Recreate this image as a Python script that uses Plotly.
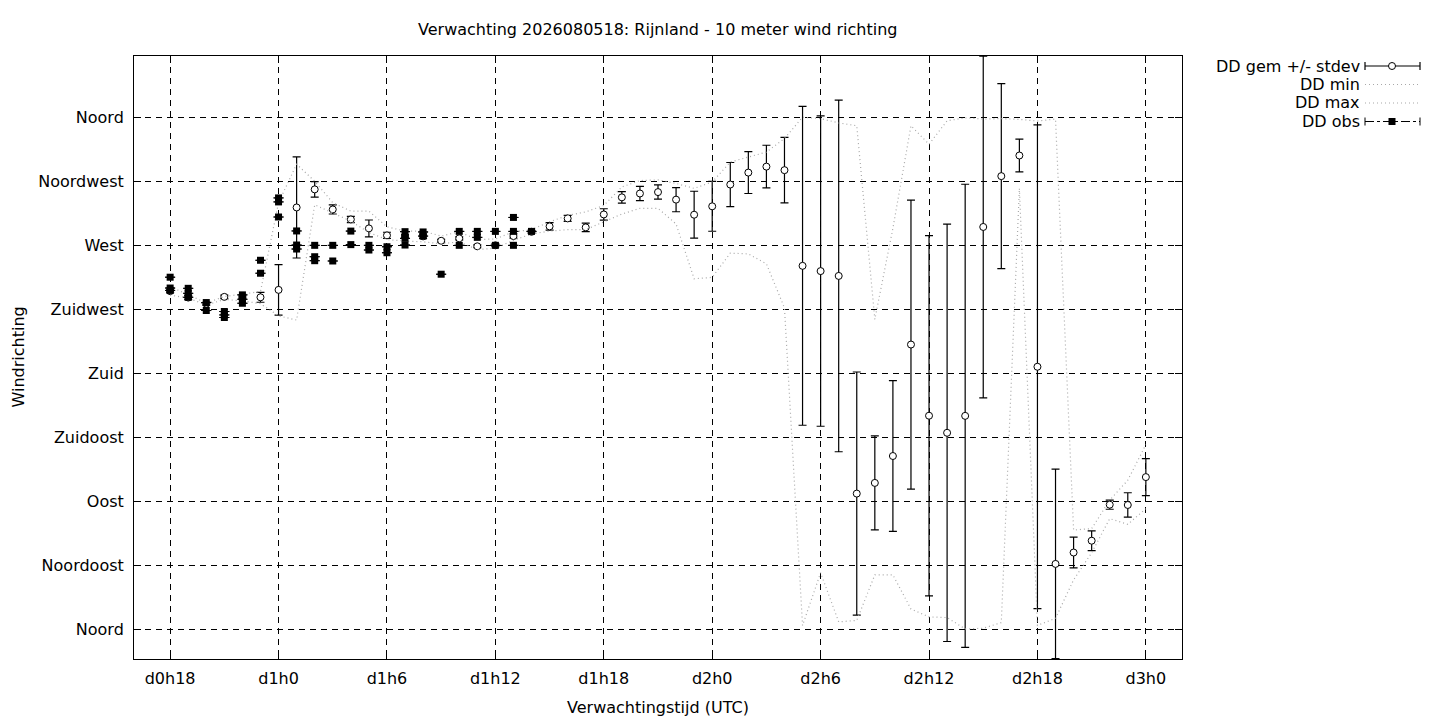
import plotly.graph_objects as go

# --- DATA ---
hours = [18, 19, 20, 21, 22, 23, 24, 25, 26, 27, 28, 29, 30, 31, 32, 33, 34, 35, 36,
         37, 38, 39, 40, 41, 42, 43, 44, 45, 46, 47, 48, 49, 50, 51, 52, 53, 54, 55,
         56, 57, 58, 59, 60, 61, 62, 63, 64, 65, 66, 67, 68, 69, 70, 71, 72]

dd_mean = [237.8, 233.3, 229.0, 233.8, 233.5, 233.5, 238.7, 296.6, 309.3, 295.2, 288.2,
           281.9, 277.0, 276.5, 276.3, 273.2, 274.9, 269.3, 270.0, 276.5, 279.5, 283.3,
           288.9, 282.6, 291.7, 303.7, 306.4, 307.4, 302.1, 291.5, 297.4, 312.7, 321.1,
           325.3, 322.8, 255.6, 251.9, 248.5, 95.6, 103.1, 122.0, 200.3, 150.3, 138.3,
           150.2, 282.9, 318.6, 333.1, 184.7, 46.2, 54.2, 62.5, 87.8, 87.6, 107.2]

dd_stdev = [1, 1.5, 1, 1.2, 1, 3.5, 17.8, 35.5, 5.4, 3.2, 2.2, 5.9, 2.2, 1, 1.5, 1, 1, 1,
            1, 1.5, 1, 2.6, 2.1, 3, 4, 4, 5, 5, 8.5, 16.5, 17.5, 15.5, 14.7, 15, 23, 112,
            109, 123.5, 85.4, 33, 53, 101.5, 126.5, 146.6, 162.7, 120, 65, 11.5, 169.9,
            66.6, 10.8, 6.9, 3.2, 8.6, 13]

dd_min = [235, 233, 228, 232, 231, 229, 220.5, 217.5, 298.5, 293, 287, 279, 274, 273,
          272.5, 271, 272.5, 267, 268, 273.5, 278, 280, 281, 281, 286.5, 292, 296, 296,
          285, 246.5, 247.5, 264.5, 264, 257, 226, 3, 40, 5.5, 6.5, 38.5, 38.5, 14.5, 9,
          8.5, 0.5, 1, 5, 310, 3, 8, 35, 54, 78, 74, 85]

dd_max = [241, 235, 229.5, 234, 236, 237.5, 300, 327, 315, 300, 294, 294, 283, 280, 280,
          276.5, 279.5, 274, 274.5, 279.5, 281, 286.5, 291, 293.5, 298, 311, 315.5, 316,
          313.5, 310, 314.5, 328.5, 332, 335.5, 345, 360, 359, 356, 354, 218, 282, 354,
          341, 357.5, 359.5, 358.7, 359, 358.5, 357.3, 358.7, 70, 71, 91, 105, 130]

# observations (several per hour)
obs_hours = [18, 18, 18, 19, 19, 19, 20, 20, 21, 21, 21, 22, 22, 22, 23, 23, 24, 24, 24,
             25, 25, 25, 26, 26, 26, 27, 27, 28, 28, 29, 29, 30, 30, 31, 31, 31, 32, 32,
             33, 34, 34, 35, 35, 36, 36, 37, 37, 37, 38]
obs_dd = [247.6, 240.0, 238.3, 239.8, 236.3, 233.5, 229.8, 224.2, 223.5, 221.1, 219.3,
          235.2, 232.1, 229.3, 259.5, 250.4, 303.3, 300.5, 289.9, 280.1, 270.2, 267.4,
          270.0, 262.0, 259.2, 270.0, 259.0, 280.0, 270.5, 270.0, 266.7, 269.0, 264.8,
          279.6, 274.9, 270.2, 279.4, 276.5, 249.7, 279.8, 270.0, 279.8, 275.6, 279.8,
          270.0, 289.6, 279.8, 270.0, 279.8]

x_ticks = [18, 24, 30, 36, 42, 48, 54, 60, 66, 72]
x_labels = ["d0h18", "d1h0", "d1h6", "d1h12", "d1h18", "d2h0", "d2h6", "d2h12", "d2h18", "d3h0"]
y_ticks = [0, 45, 90, 135, 180, 225, 270, 315, 360]
y_labels = ["Noord", "Noordoost", "Oost", "Zuidoost", "Zuid", "Zuidwest", "West",
            "Noordwest", "Noord"]

TITLE = "Verwachting 2026080518: Rijnland - 10 meter wind richting"
FONT = "DejaVu Sans"
FS = 16
MINMAX_COLOR = "#a8a8a8"
MINMAX_DASH = "1px,3px"

# the page body adds an 8px offset, so the figure is 8px smaller each way
OFF = 8
W, H = 1440 - OFF, 720 - OFF
# plot area in page pixels
L, R, T, B = 134, 1182, 56, 659


def px(x):
    return (x - L) / (R - L)


def py(y):
    return (B - y) / (B - T)


fig = go.Figure()

fig.add_trace(go.Scatter(
    x=hours, y=dd_mean, mode="markers", name="DD gem +/- stdev",
    marker=dict(symbol="circle", size=7, color="white", line=dict(color="black", width=1)),
    error_y=dict(type="data", array=dd_stdev, visible=True, color="black",
                 thickness=1.2, width=4),
))
fig.add_trace(go.Scatter(
    x=hours, y=dd_min, mode="lines", name="DD min",
    line=dict(color=MINMAX_COLOR, width=1.2, dash=MINMAX_DASH),
))
fig.add_trace(go.Scatter(
    x=hours, y=dd_max, mode="lines", name="DD max",
    line=dict(color=MINMAX_COLOR, width=1.2, dash=MINMAX_DASH),
))
fig.add_trace(go.Scatter(
    x=obs_hours, y=obs_dd, mode="markers", name="DD obs",
    marker=dict(symbol="square", size=7, color="black"),
    error_y=dict(type="constant", value=0, visible=True, color="black",
                 thickness=1, width=5),
))

axis_common = dict(
    showline=True, mirror="ticks", linecolor="black", linewidth=1,
    ticks="inside", ticklen=7, tickcolor="black",
    showgrid=True, gridcolor="black", gridwidth=1, griddash="6px,5px",
    zeroline=False, tickfont=dict(family=FONT, size=FS, color="black"),
)
fig.update_xaxes(range=[16, 74], tickvals=x_ticks, ticktext=x_labels,
                 ticklabelstandoff=5, **axis_common)
fig.update_yaxes(range=[-20.6, 403], tickvals=y_ticks, ticktext=y_labels,
                 ticklabelstandoff=6, **axis_common)

# --- custom gnuplot-style key (text left, sample right) ---
annotations = [
    dict(text=TITLE, x=0.5, y=py(29), xref="paper", yref="paper", showarrow=False,
         xanchor="center", yanchor="middle", font=dict(family=FONT, size=FS)),
    dict(text="Verwachtingstijd (UTC)", x=0.5, y=py(707), xref="paper", yref="paper",
         showarrow=False, xanchor="center", yanchor="middle", font=dict(family=FONT, size=FS)),
    dict(text="Windrichting", x=px(18), y=0.5, xref="paper", yref="paper", textangle=-90,
         showarrow=False, xanchor="center", yanchor="middle", font=dict(family=FONT, size=FS)),
]
shapes = []
key_rows = [("DD gem +/- stdev", 66), ("DD min", 84.5), ("DD max", 103), ("DD obs", 121.5)]
s0, s1, sc = 1365, 1420, 1392
for label, ry in key_rows:
    annotations.append(dict(text=label, x=px(1362), y=py(ry), xref="paper", yref="paper",
                            showarrow=False, xanchor="right", yanchor="middle",
                            font=dict(family=FONT, size=FS)))

line_ref = dict(xref="paper", yref="paper")
# gem +/- stdev sample
ry = key_rows[0][1]
shapes.append(dict(type="line", x0=px(s0), x1=px(s1), y0=py(ry), y1=py(ry),
                   line=dict(color="black", width=1.2), **line_ref))
for xx in (s0, s1):
    shapes.append(dict(type="line", x0=px(xx), x1=px(xx), y0=py(ry - 4), y1=py(ry + 4),
                       line=dict(color="black", width=1.2), **line_ref))
shapes.append(dict(type="circle", x0=px(sc - 3.5), x1=px(sc + 3.5), y0=py(ry + 3.5),
                   y1=py(ry - 3.5), fillcolor="white", line=dict(color="black", width=1),
                   **line_ref))
# min / max samples
for _, ry in key_rows[1:3]:
    shapes.append(dict(type="line", x0=px(s0), x1=px(s1), y0=py(ry), y1=py(ry),
                       line=dict(color=MINMAX_COLOR, width=1.2, dash=MINMAX_DASH), **line_ref))
# obs sample
ry = key_rows[3][1]
shapes.append(dict(type="line", x0=px(s0), x1=px(s1), y0=py(ry), y1=py(ry),
                   line=dict(color="black", width=1, dash="dashdot"), **line_ref))
for xx in (s0, s1):
    shapes.append(dict(type="line", x0=px(xx), x1=px(xx), y0=py(ry - 4), y1=py(ry + 4),
                       line=dict(color="black", width=1), **line_ref))
shapes.append(dict(type="rect", x0=px(sc - 3.5), x1=px(sc + 3.5), y0=py(ry + 3.5),
                   y1=py(ry - 3.5), fillcolor="black", line=dict(color="black", width=0),
                   **line_ref))

fig.update_layout(
    width=W, height=H,
    margin=dict(l=L - OFF, r=W - (R - OFF), t=T - OFF, b=H - (B - OFF)),
    paper_bgcolor="white", plot_bgcolor="white",
    showlegend=False,
    annotations=annotations, shapes=shapes,
    font=dict(family=FONT, size=FS, color="black"),
)

fig.write_html("out.html")
